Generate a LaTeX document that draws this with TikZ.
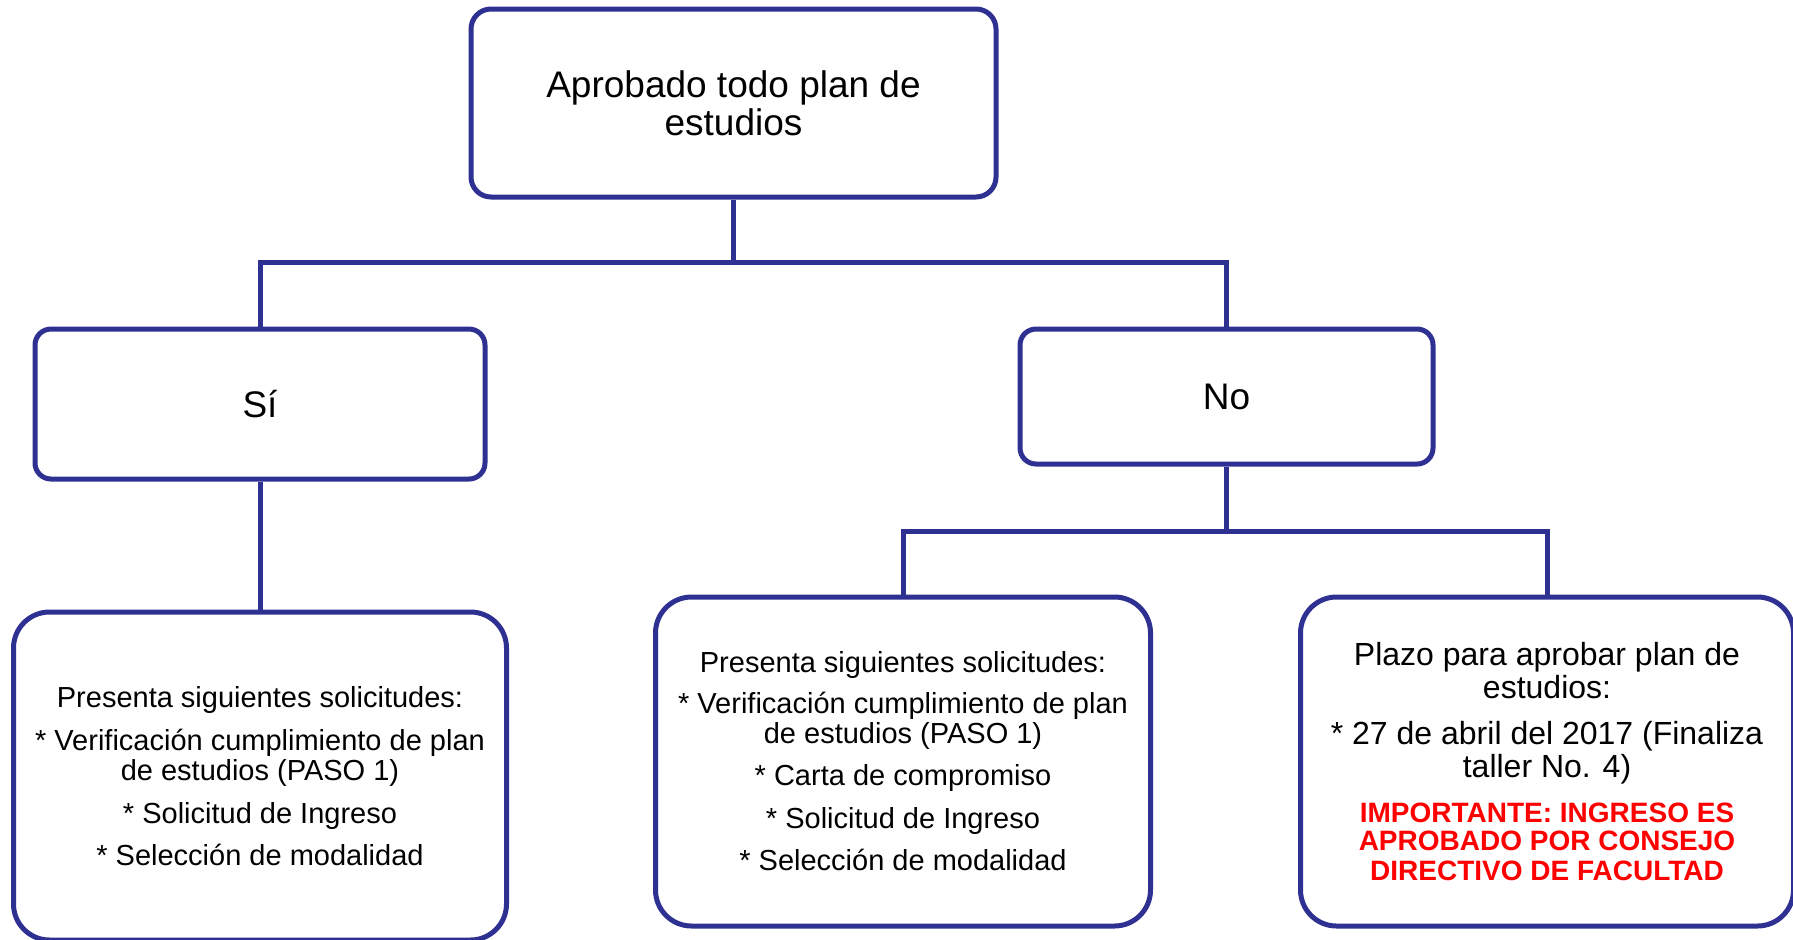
\documentclass[tikz,border=0pt]{standalone}
\usepackage{fontspec}
\setmainfont{Liberation Sans}
\usepackage{xcolor}
\usepackage{tikz}

\definecolor{boxblue}{RGB}{46,49,146}
\newcommand{\alerta}[1]{{\color{red}\bfseries\fontsize{14}{14}\selectfont #1}}

\begin{document}
\begin{tikzpicture}[x=0.5pt, y=-0.5pt,
  box/.style={draw=boxblue, line width=2.5pt, fill=white, align=center, inner sep=0pt},
  link/.style={draw=boxblue, line width=2.5pt}]

\useasboundingbox (0,0) rectangle (1793,939);

\node[box, rounded corners=10pt, minimum width=262.5pt, minimum height=94pt,
  font=\fontsize{18.5}{19}\selectfont] (top) at (733.5,103)
  {Aprobado todo plan de\\estudios};

\node[box, rounded corners=8pt, minimum width=225pt, minimum height=75pt,
  font=\fontsize{18.5}{19}\selectfont] (si) at (260,404) {Sí};

\node[box, rounded corners=8pt, minimum width=206.5pt, minimum height=67.5pt,
  font=\fontsize{18.5}{19}\selectfont] (no) at (1226.5,396.5) {No};

\node[box, rounded corners=18pt, minimum width=246.5pt, minimum height=164pt,
  font=\fontsize{14.5}{15}\selectfont] (solsi) at (260,776)
  {Presenta siguientes solicitudes:\\[6.5pt]
   * Verificación cumplimiento de plan\\
   de estudios (PASO 1)\\[6.5pt]
   * Solicitud de Ingreso\\[6pt]
   * Selección de modalidad};

\node[box, rounded corners=18pt, minimum width=247.5pt, minimum height=164.5pt,
  font=\fontsize{14.5}{15}\selectfont] (solno) at (903,761.5)
  {Presenta siguientes solicitudes:\\[5.5pt]
   * Verificación cumplimiento de plan\\
   de estudios (PASO 1)\\[6pt]
   * Carta de compromiso\\[6.5pt]
   * Solicitud de Ingreso\\[6pt]
   * Selección de modalidad};

\node[box, rounded corners=18pt, minimum width=246.5pt, minimum height=164.5pt,
  font=\fontsize{16}{16.3}\selectfont] (plazo) at (1547,761.5)
  {Plazo para aprobar plan de\\
   estudios:\\[6.7pt]
   * 27 de abril del 2017 (Finaliza\\
   taller No. 4)\\[6.2pt]
   \alerta{IMPORTANTE: INGRESO ES}\\[-2.3pt]
   \alerta{APROBADO POR CONSEJO}\\[-1.3pt]
   \alerta{DIRECTIVO DE FACULTAD}};

\coordinate (splitA) at (733.5,262);
\coordinate (splitB) at (1226.5,531);

\draw[link] (top.south) -- (splitA);
\draw[link] (si.north) |- (splitA) -| (no.north);
\draw[link] (si.south) -- (solsi.north);
\draw[link] (no.south) -- (splitB);
\draw[link] (solno.north) |- (splitB) -| (plazo.north);

\end{tikzpicture}
\end{document}
